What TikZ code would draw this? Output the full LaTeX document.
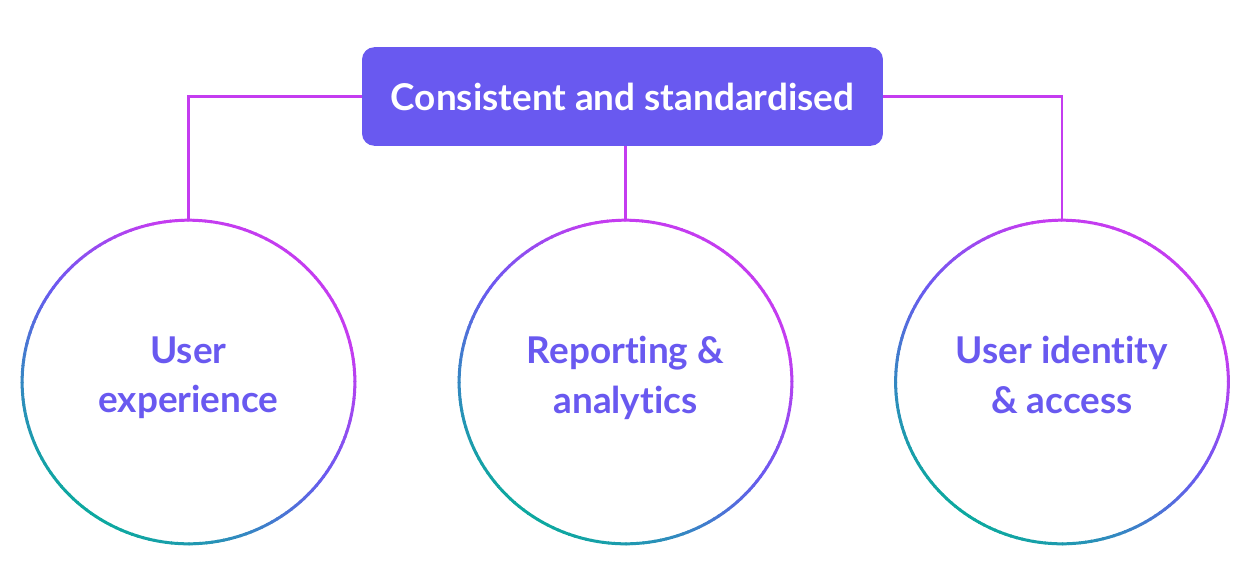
\documentclass[tikz,border=0pt]{standalone}
\usepackage{fontspec}
\setmainfont[Ligatures={TeX,NoCommon}]{Lato}
\usetikzlibrary{positioning,shapes.geometric}
\definecolor{boxviolet}{HTML}{6959F0}
\definecolor{linkmag}{HTML}{C43CF0}
\definecolor{ringteal}{HTML}{0DA8A0}
\definecolor{ringviolet}{HTML}{6A5AF0}
\tikzset{
  topic/.style={rectangle, rounded corners=7pt, fill=boxviolet, text=white,
    minimum width=296.5pt, minimum height=56.1pt, font=\fontsize{21}{25}\selectfont\bfseries},
  area/.style={ellipse, minimum width=189.4pt, minimum height=184.2pt, inner sep=0pt, align=center,
    text=boxviolet, font=\fontsize{21}{28.3}\selectfont\bfseries},
  link/.style={linkmag, line width=1.5pt},
}
\begin{document}
\begin{tikzpicture}[x=0.02cm, y=-0.02cm]
  \useasboundingbox (0,0) rectangle (1244,576);
  \node[topic] (std) at (622.5,96.5) {Consistent and standardised};
  \node[area] (ux) at (188.5,382) {User\\experience\strut};
  \node[area] (rep) at (625.5,382) {Reporting \&\\analytics\strut};
  \node[area] (uid) at (1062,382) {User identity\\\& access\strut};
  % gradient rings
  \foreach \c in {ux,rep,uid}{
    \foreach \a in {0,2,...,358}{
      \pgfmathsetmacro\gt{cos(\a+1-55)}
      \pgfmathsetmacro\gp{\gt<0 ? (\gt+1)*100 : min(\gt*140,100)}
      \ifdim\gt pt<0pt \colorlet{ringcol}{ringviolet!\gp!ringteal}\else\colorlet{ringcol}{linkmag!\gp!ringviolet}\fi
      \draw[ringcol, line width=1.7pt] (\c.center) ++(\a:94.7pt and 92.1pt)
        arc[start angle=\a, end angle=\a+2.4, x radius=94.7pt, y radius=92.1pt];
    }
  }
  % connectors
  \draw[link] (std.west) -| (ux.north);
  \draw[link] (rep.north |- std.south) -- (rep.north);
  \draw[link] (std.east) -| (uid.north);
\end{tikzpicture}
\end{document}
